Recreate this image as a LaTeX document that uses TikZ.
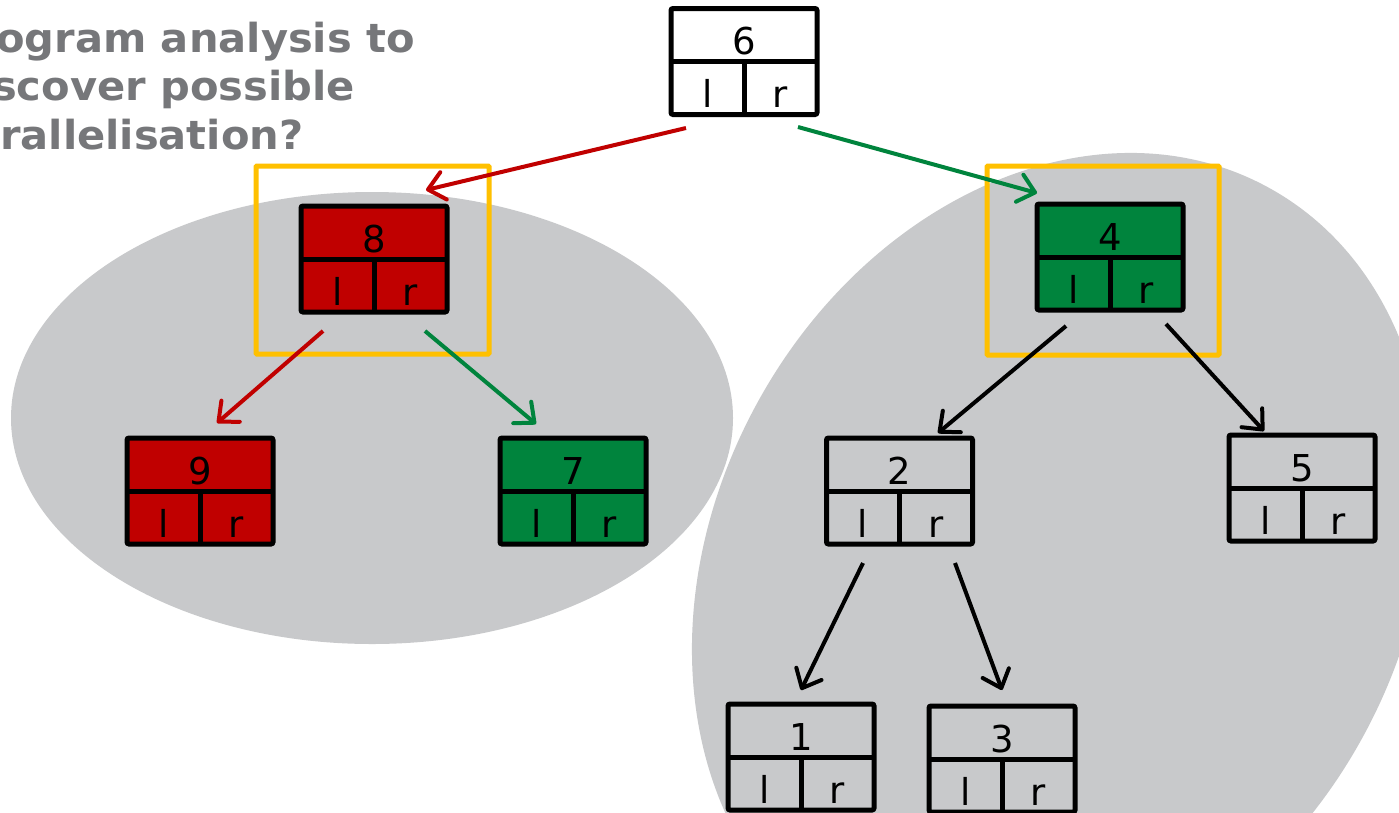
\documentclass[tikz,border=0pt]{standalone}
\usepackage{fontspec}
\setmainfont{DejaVu Sans}
\newfontfamily\titlefont[FakeStretch=1.04]{DejaVu Sans}
\usetikzlibrary{arrows.meta,calc}
\definecolor{nodered}{HTML}{C00000}
\definecolor{nodegreen}{HTML}{00843D}
\definecolor{hilite}{HTML}{FFC000}
\definecolor{blobgray}{HTML}{C8C9CB}
\definecolor{titlegray}{HTML}{76777A}

% a tree node: key cell on top, l / r pointer cells below
% #1 name, #2 position, #3 fill, #4 key
\newcommand\treenode[4]{%
  \node[cell, fill=#3] (#1) at (#2) {};
  \draw[line width=5pt] (#1.west) -- (#1.east) (#1.center) -- (#1.south);
  \node[lbl] (#1-key) at ([yshift=7pt]#1.center) {#4};
  \node[lbl] (#1-l) at ([xshift=-36.5pt,yshift=-46pt]#1.center) {l};
  \node[lbl] (#1-r) at ([xshift=36.5pt,yshift=-46pt]#1.center) {r};
}

\begin{document}
\begin{tikzpicture}[x=1pt,y=-1pt,
  cell/.style={draw=black, line width=5pt, rounded corners=2pt,
    minimum width=146pt, minimum height=106pt, inner sep=0pt, outer sep=0pt},
  hilite box/.style={draw=hilite, line width=5pt, rounded corners=1pt,
    inner sep=0pt, outer sep=0pt},
  link/.style={line width=4pt,
    -{Straight Barb[length=16pt,width=28pt,round]}},
  lbl/.style={font=\fontsize{37}{37}\selectfont, anchor=base, inner sep=0pt},
  heading/.style={font=\titlefont\bfseries\fontsize{40}{40}\selectfont,
    text=titlegray, anchor=base west, inner sep=0pt}
]
\useasboundingbox (0,0) rectangle (1399,812);
\clip (0,0) rectangle (1399,812);
\fill[white] (0,0) rectangle (1399,812);

% the two subtrees that can be processed in parallel
\fill[blobgray] (372,418) ellipse [x radius=361, y radius=226];
\fill[blobgray, rotate around={61.6:(1060,570)}] (1060,570)
  ellipse [x radius=435.6, y radius=345.8];

% heading
\node[heading] (t1) at (-4,52) {ogram analysis to};
\node[heading] (t2) at (-8,100) {scover possible};
\node[heading] (t3) at (0,149) {rallelisation?};

% tree nodes
\treenode{n6}{744,61.5}{white}{6}
\treenode{n8}{374,259}{nodered}{8}
\treenode{n4}{1110,257}{nodegreen}{4}
\treenode{n9}{200,491}{nodered}{9}
\treenode{n7}{573,491}{nodegreen}{7}
\treenode{n2}{899.5,491}{none}{2}
\treenode{n5}{1302,488}{none}{5}
\treenode{n1}{801,757}{none}{1}
\treenode{n3}{1002,759}{none}{3}

% highlighted subtree roots
\node[hilite box, minimum width=233pt, minimum height=188pt] (h8) at (372.5,260) {};
\node[hilite box, minimum width=232pt, minimum height=189pt] (h4) at (1103,260.5) {};

% child pointers
\draw[link, nodered]   ($(n6)+(-58,66.5)$) -- ($(n8)+(52,-69)$);
\draw[link, nodegreen] ($(n6)+(54,65.5)$)  -- ($(n4)+(-73,-64)$);
\draw[link, nodered]   ($(n8)+(-51,72)$)   -- ($(n9)+(17,-68)$);
\draw[link, nodegreen] ($(n8)+(51,72)$)    -- ($(n7)+(-37,-67)$);
\draw[link, black]     ($(n4)+(-44,69)$)   -- ($(n2)+(38.5,-58)$);
\draw[link, black]     ($(n4)+(56,67)$)    -- ($(n5)+(-38,-57)$);
\draw[link, black]     ($(n2)+(-36.5,72)$) -- ($(n1)+(0,-67)$);
\draw[link, black]     ($(n2)+(55.5,72)$)  -- ($(n3)+(0,-69)$);
\end{tikzpicture}
\end{document}
